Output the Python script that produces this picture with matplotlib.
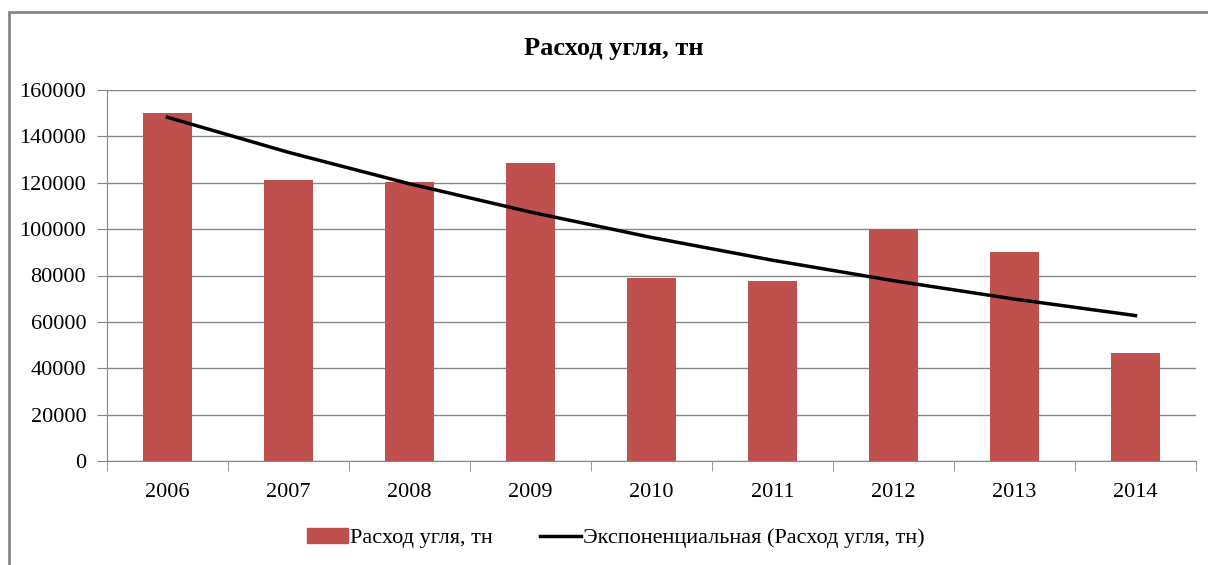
import numpy as np
import matplotlib
matplotlib.use("Agg")
import matplotlib.pyplot as plt
from matplotlib.patches import Rectangle
from matplotlib.lines import Line2D

years = ["2006", "2007", "2008", "2009", "2010", "2011", "2012", "2013", "2014"]
consumption = [150000, 121000, 120500, 128500, 79000, 77500, 100000, 90000, 46500]
yticks = [0, 20000, 40000, 60000, 80000, 100000, 120000, 140000, 160000]
title = "Расход угля, тн"
series_label = "Расход угля, тн"
trend_label = "Экспоненциальная (Расход угля, тн)"

plt.rcParams['font.family'] = ['Liberation Serif', 'DejaVu Serif']

W, H = 1208, 565
fig = plt.figure(figsize=(W/100, H/100), dpi=100)
ax = fig.add_axes([107/W, 1-461/H, (1196-107)/W, (461-90)/H])

x = np.arange(len(years))
ax.bar(x, consumption, width=0.4, color='#C0504D', zorder=2)

# exponential trend (least squares on log)
b, a = np.polyfit(x, np.log(consumption), 1)
trend = np.exp(a + b*x)
ax.plot(x, trend, color='black', lw=2.5, zorder=3)

ax.set_xlim(-0.5, len(years)-0.5)
ax.set_ylim(0, 160000)
ax.set_yticks(yticks)
ax.set_yticklabels([str(v) for v in yticks], fontsize=16)
ax.set_xticks(x)
ax.set_xticklabels(years, fontsize=16)
ax.set_xticks(np.arange(len(years)+1)-0.5, minor=True)
ax.tick_params(axis='x', which='major', length=0, pad=16)
ax.tick_params(axis='x', which='minor', length=7, color='#868686')
ax.tick_params(axis='y', length=7, color='#868686', pad=8)
ax.grid(axis='y', color='#868686', lw=1, zorder=1)
for s in ['top', 'right']:
    ax.spines[s].set_visible(False)
for s in ['left', 'bottom']:
    ax.spines[s].set_color('#868686')

fig.text(614/W, 1-48/H, title, ha='center', va='center',
         fontsize=19, fontweight='bold')

handles = [Rectangle((0, 0), 1, 1, color='#C0504D'),
           Line2D([0], [0], color='black', lw=2.5)]
fig.legend(handles, [series_label, trend_label], loc='center',
           bbox_to_anchor=(616/W, 1-538/H), ncol=2, frameon=False,
           fontsize=16, handlelength=1.85, handletextpad=0.1, columnspacing=2.1)

# chart area border (cropped at right/bottom)
fig.patches.append(Rectangle((9/W, -0.05), 1.1, 1-12/H+0.05, transform=fig.transFigure,
                             fill=False, edgecolor='#868686', lw=2))

fig.savefig('out.png', dpi=100)
